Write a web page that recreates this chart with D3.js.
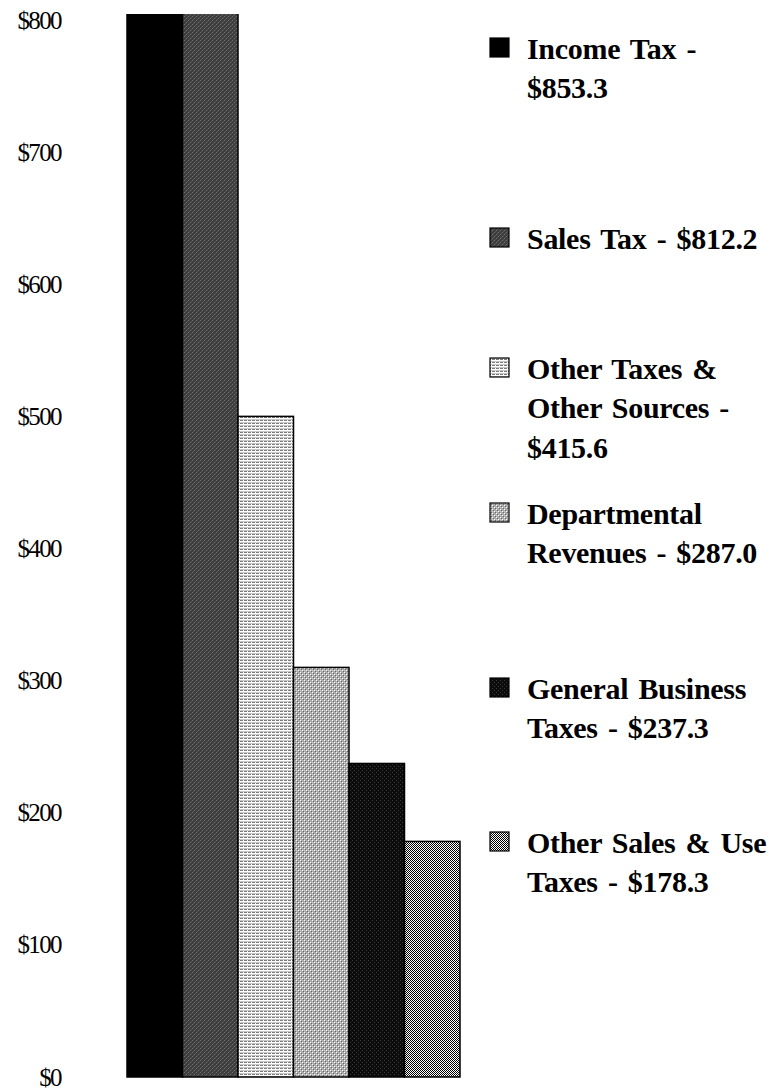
<!DOCTYPE html>
<html><head><meta charset="utf-8">
<script src="https://cdn.jsdelivr.net/npm/d3@7"></script>
<style>
html,body{margin:0;padding:0;background:#fff;}
svg{display:block;}
</style></head>
<body>
<script>
// ---- data ----
const categories = ["Income Tax", "Sales Tax", "Other Taxes & Other Sources", "Departmental Revenues", "General Business Taxes", "Other Sales & Use Taxes"];
const legendAmounts = [853.3, 812.2, 415.6, 287.0, 237.3, 178.3];
const barValues = [853.3, 812.2, 500, 310, 237.3, 178.3];
const legendText = ["Income Tax -\n", "Sales Tax - ", "Other Taxes &\nOther Sources -\n", "Departmental\nRevenues - ", "General Business\nTaxes - ", "Other Sales & Use\nTaxes - "];
const tickValues = [0, 100, 200, 300, 400, 500, 600, 700, 800];

// ---- layout ----
const W = 779, H = 1089;
const svg = d3.select("body").append("svg").attr("width", W).attr("height", H);
const defs = svg.append("defs");

const x = d3.scaleBand().domain(categories).range([127, 460]).padding(0);
const y = d3.scaleLinear().domain([0, 800]).range([1077, 20]);

// patterns
function pat(id, w, h, bg, cells) {
  const p = defs.append("pattern").attr("id", id).attr("patternUnits", "userSpaceOnUse")
    .attr("width", w).attr("height", h);
  p.append("rect").attr("width", w).attr("height", h).attr("fill", bg);
  cells.forEach(c => p.append("rect").attr("x", c[0]).attr("y", c[1]).attr("width", c[2]).attr("height", c[3]).attr("fill", c[4]));
  return "url(#" + id + ")";
}
const fills = [
  "#000",
  pat("p1", 4, 4, "#3e3e3e", [[0,0,1,1,"#707070"],[2,2,1,1,"#707070"],[1,3,1,1,"#555"],[3,1,1,1,"#555"]]),
  pat("p2", 4, 3, "#ffffff", [[0,0,3,1,"#7c7c7c"],[0,2,4,1,"#c8c8c8"]]),
  pat("p3", 4, 4, "#ababab", [[0,0,1,1,"#ffffff"],[2,2,1,1,"#ffffff"],[1,1,1,1,"#6a6a6a"],[3,3,1,1,"#6a6a6a"],[0,2,1,1,"#d0d0d0"]]),
  pat("p4", 4, 4, "#0c0c0c", [[0,0,1,1,"#3a3a3a"],[2,2,1,1,"#3a3a3a"]]),
  pat("p5", 2, 2, "#ffffff", [[0,0,1,1,"#000"],[1,1,1,1,"#000"]])
];

// clip for plot area
defs.append("clipPath").attr("id", "plotclip").append("rect")
  .attr("x", 100).attr("y", y(800) - 6).attr("width", 400).attr("height", y(0) - y(800) + 12);

// bars
svg.append("g").attr("clip-path", "url(#plotclip)")
  .selectAll("rect").data(categories).join("rect")
  .attr("x", d => x(d))
  .attr("width", x.bandwidth())
  .attr("y", (d, i) => y(barValues[i]))
  .attr("height", (d, i) => y(0) - y(barValues[i]))
  .attr("fill", (d, i) => fills[i])
  .attr("stroke", "#000").attr("stroke-width", 1.5);

// axis
const axis = d3.axisLeft(y).tickValues(tickValues).tickSize(0).tickPadding(0)
  .tickFormat(d => "$" + d);
const ag = svg.append("g").attr("transform", "translate(61,0)").call(axis);
ag.select(".domain").remove();
ag.selectAll("text").attr("font-family", "'Liberation Serif', 'Times New Roman', serif")
  .attr("font-size", 25).attr("fill", "#000").attr("letter-spacing", "-1.6px");

// legend
const legendY = [48, 238, 368, 513, 688, 842];
const lineH = 39.5;
const lg = svg.append("g");
categories.forEach((c, i) => {
  const g = lg.append("g").attr("transform", `translate(0,${legendY[i]})`);
  g.append("rect").attr("x", 490).attr("y", -10).attr("width", 19).attr("height", 19)
    .attr("fill", fills[i]).attr("stroke", "#000").attr("stroke-width", 1.2);
  const lines = (legendText[i] + "$" + legendAmounts[i].toFixed(1)).split("\n");
  const t = g.append("text").attr("font-family", "'Liberation Serif', 'Times New Roman', serif")
    .attr("font-weight", "bold").attr("font-size", 30).attr("fill", "#000")
    .attr("letter-spacing", "-0.3px").attr("word-spacing", "3px");
  lines.forEach((ln, k) => {
    t.append("tspan").attr("x", 527).attr("y", k * lineH).attr("dy", "0.35em").text(ln);
  });
});
</script>
</body></html>
